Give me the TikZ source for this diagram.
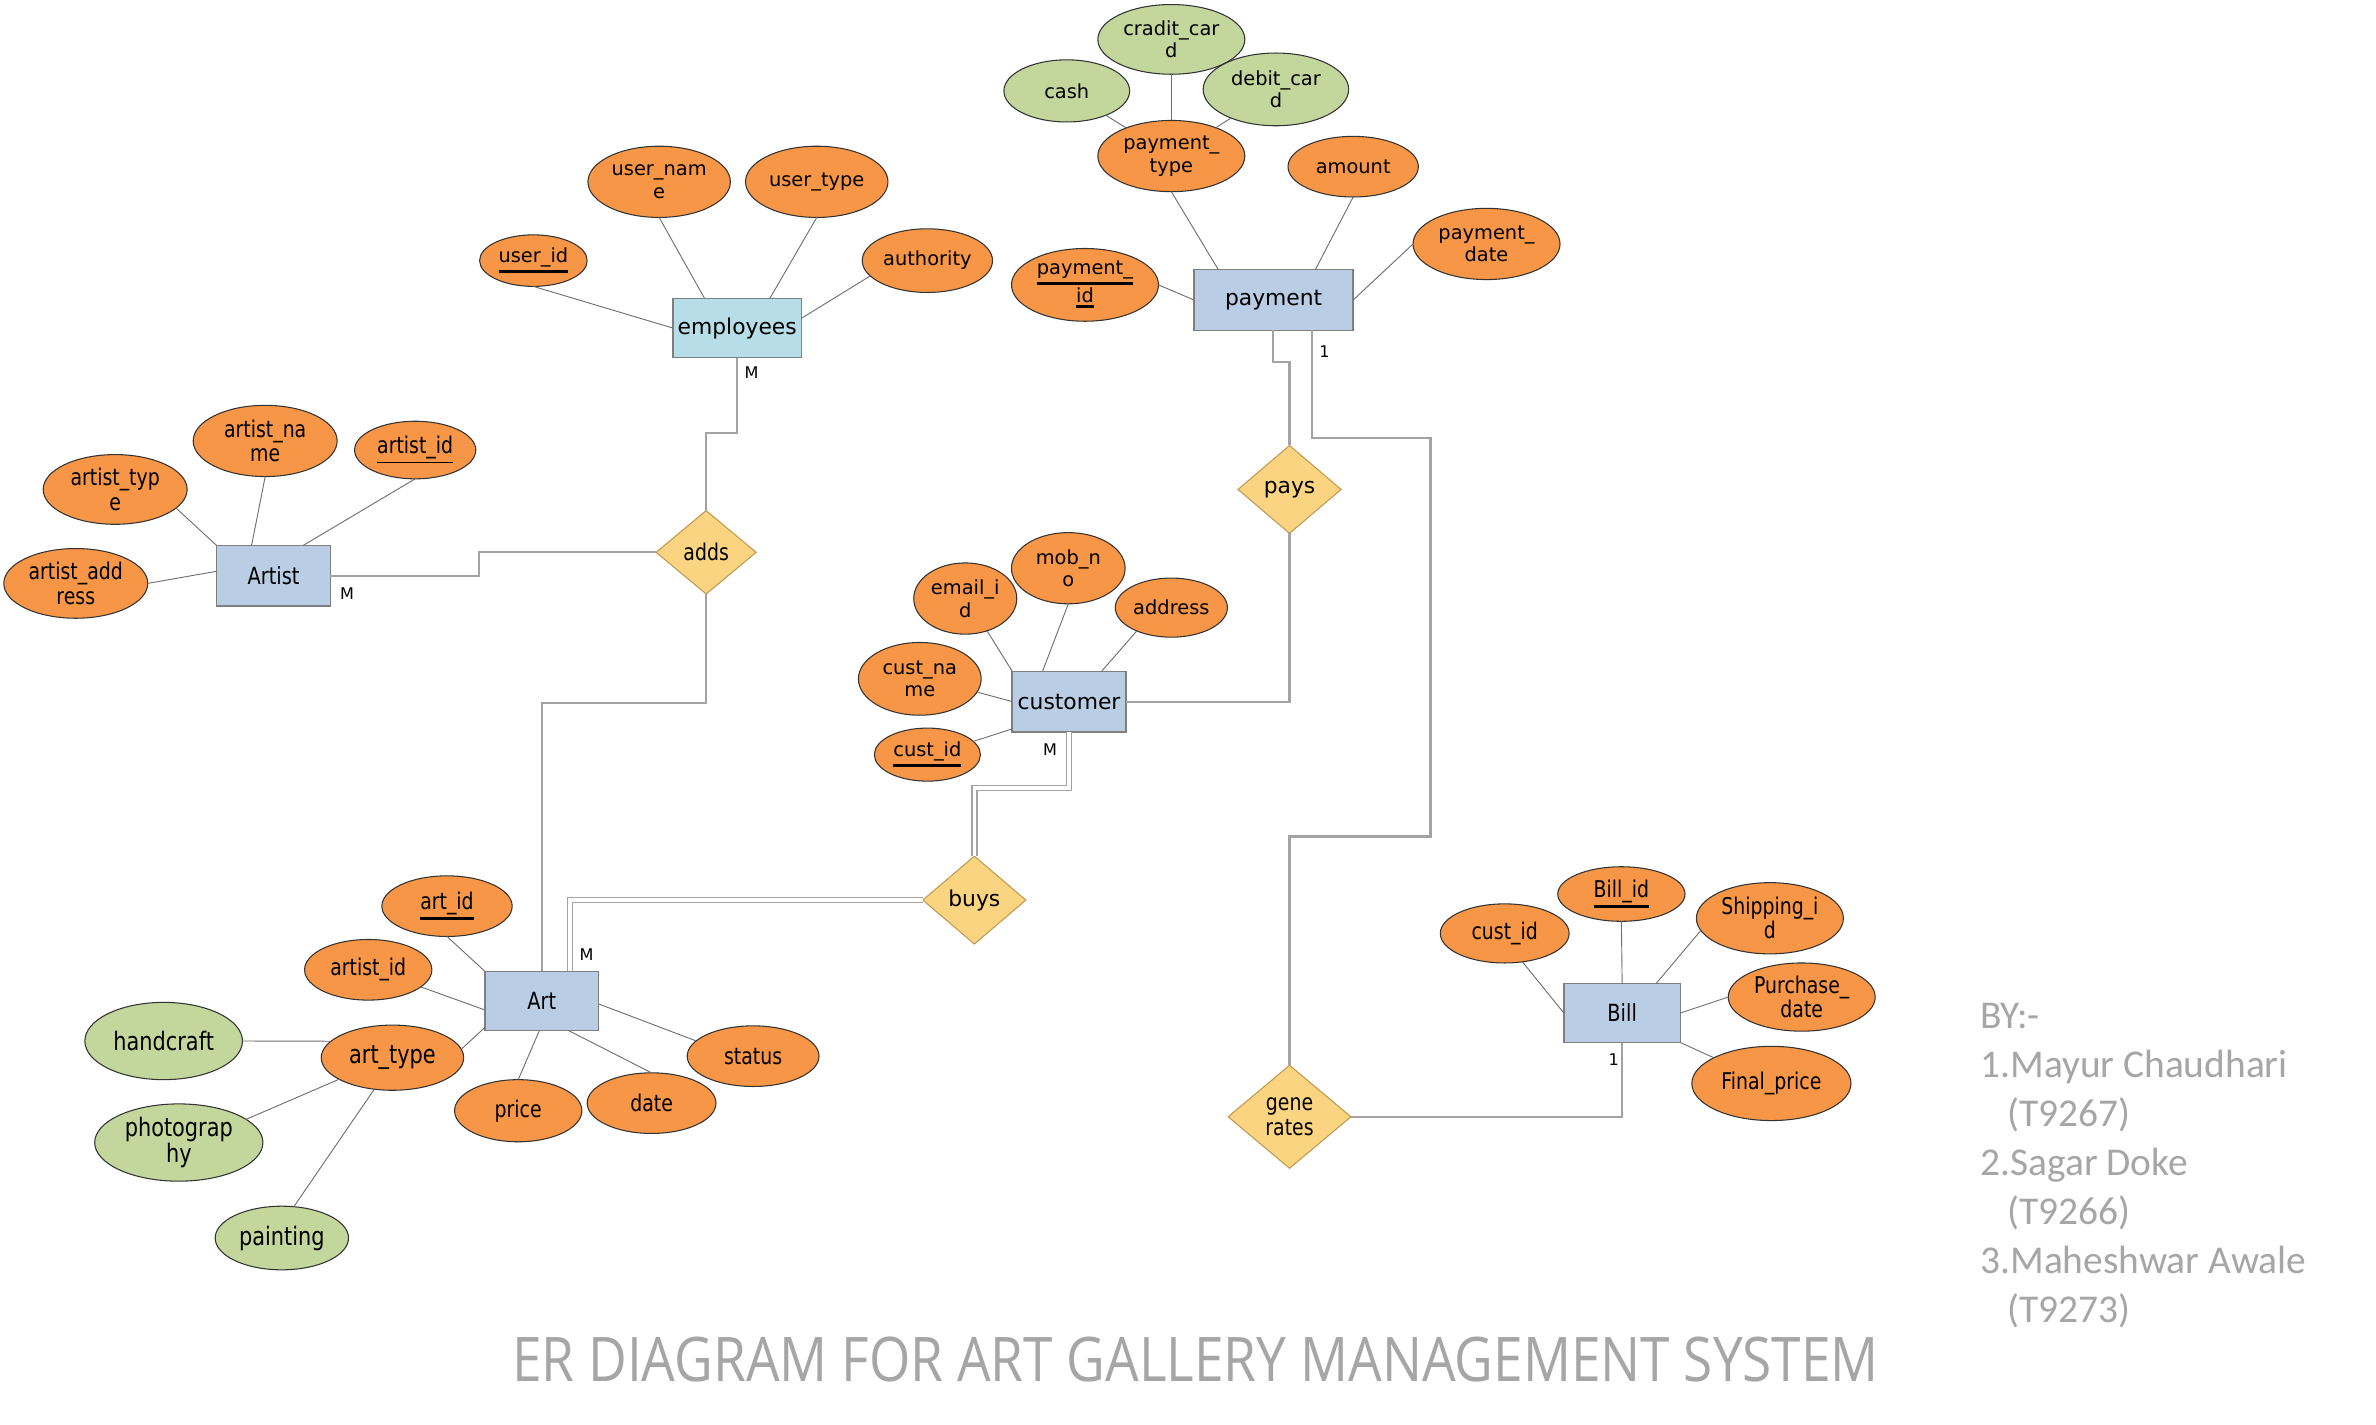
\documentclass[tikz,border=0pt]{standalone}
\usepackage{fontspec}
\usepackage{graphicx}
\setmainfont{DejaVu Sans}
\newfontfamily\narrowfont{DejaVu Sans}[FakeStretch=0.82]
\newfontfamily\carl{Carlito}
\newfontfamily\osans{Open Sans}
\usetikzlibrary{shapes.geometric,calc}
\definecolor{attrorange}{HTML}{F79646}
\definecolor{attrgreen}{HTML}{C3D69B}
\definecolor{entblue}{HTML}{B9CDE5}
\definecolor{empblue}{HTML}{B7DEE8}
\definecolor{relfill}{HTML}{FAD481}
\definecolor{relborder}{HTML}{C09A50}
\definecolor{entborder}{HTML}{7F7F7F}
\definecolor{linegray}{HTML}{A3A3A3}
\definecolor{conngray}{HTML}{6E6E6E}
\definecolor{txtgray}{HTML}{A6A6A6}
\newcommand\tul[1]{\vtop{\hbox{#1}\kern0.7pt\hrule height 1.1pt}}
\begin{document}
\begin{tikzpicture}[x=0.5pt,y=-0.5pt,
  nodebase/.style={inner sep=0pt, outer sep=0pt, align=center},
  esz/.style 2 args={minimum width=#1pt, minimum height=#2pt},
  attr/.style={nodebase, ellipse, draw=black!80, line width=0.35pt, fill=attrorange,
    font=\fontsize{6.4pt}{7.5pt}\selectfont},
  nattr/.style={attr, font=\narrowfont\fontsize{7.6pt}{8pt}\selectfont},
  bigattr/.style={attr, font=\narrowfont\fontsize{8.4pt}{8.6pt}\selectfont},
  gattr/.style={attr, fill=attrgreen},
  ngattr/.style={bigattr, fill=attrgreen},
  ent/.style={nodebase, rectangle, draw=entborder, line width=0.5pt, fill=entblue,
    font=\fontsize{7.2pt}{8pt}\selectfont},
  nent/.style={ent, font=\narrowfont\fontsize{7.8pt}{8.5pt}\selectfont},
  rel/.style={nodebase, diamond, draw=relborder, line width=0.35pt, fill=relfill,
    font=\fontsize{7.2pt}{8pt}\selectfont},
  nrel/.style={rel, font=\narrowfont\fontsize{7.6pt}{8.5pt}\selectfont},
  conn/.style={draw=conngray, line width=0.3pt},
  rline/.style={draw=linegray, line width=0.7pt},
  dline/.style={draw=linegray, line width=0.45pt, double=white, double distance=1.2pt},
  lab/.style={nodebase, font=\fontsize{5.3pt}{6pt}\selectfont},
  credit/.style={nodebase, anchor=base west, text=txtgray, font=\carl\fontsize{13pt}{16pt}\selectfont}
]
\fill[white] (0,0) rectangle (1568,939.8);
\useasboundingbox (0,0) rectangle (1568,939.8);

% ---------- payment cluster
\node[gattr, esz={41.5}{20.5}] (cash) at (704,60) {cash};
\node[gattr, esz={48.5}{23}] (cradit) at (773,26) {cradit\_car\\d};
\node[gattr, esz={48}{24}] (debit) at (842,59) {debit\_car\\d};
\node[attr, esz={48.5}{23.5}] (ptype) at (773,103) {payment\_\\type};
\node[attr, esz={43}{20}] (amount) at (893,110) {amount};
\node[attr, esz={48.5}{23.5}] (pdate) at (981,161) {payment\_\\date};
\node[attr, esz={48.5}{24}] (pid) at (716,188) {\tul{payment\_}\\\tul{id}};
\node[ent, minimum width=52.5pt, minimum height=20pt] (payment) at (840.5,198) {payment};

% ---------- employees cluster
\node[attr, esz={35.5}{17}] (uid) at (352,172) {\tul{user\_id}};
\node[attr, esz={47}{23.5}] (uname) at (435,120) {user\_nam\\e};
\node[attr, esz={47}{23.5}] (utype) at (539,120) {user\_type};
\node[attr, esz={43}{21}] (auth) at (612,172) {authority};
\node[ent, fill=empblue, minimum width=42.5pt, minimum height=19.5pt] (employees) at (486.5,216.5) {employees};

% ---------- artist cluster
\node[nattr, esz={47.5}{23}] (atype) at (76,323) {artist\_typ\\e};
\node[nattr, esz={47.5}{23.5}] (aname) at (175,291) {artist\_na\\me};
\node[nattr, esz={40}{19}] (aid) at (274,297) {\underline{artist\_id}};
\node[nattr, esz={47.5}{23}] (aaddr) at (50,385) {artist\_add\\ress};
\node[nent, minimum width=37.5pt, minimum height=20pt] (artist) at (180.5,380) {Artist};

% ---------- customer cluster
\node[attr, esz={34}{23.5}] (email) at (637,395) {email\_i\\d};
\node[attr, esz={37.5}{23.5}] (mob) at (705,375) {mob\_n\\o};
\node[attr, esz={37}{19.5}] (caddr) at (773,401) {address};
\node[attr, esz={40.5}{24}] (cname) at (607,448) {cust\_na\\me};
\node[attr, esz={35}{17.5}] (cid) at (612,498) {\tul{cust\_id}};
\node[ent, minimum width=37.5pt, minimum height=20pt] (customer) at (705.5,463) {customer};

% ---------- art cluster
\node[nattr, esz={43}{20}] (artid) at (295,598) {\tul{art\_id}};
\node[nattr, esz={42}{20}] (artistid) at (243,640) {artist\_id};
\node[ngattr, esz={52}{25.5}] (handcraft) at (108,687) {handcraft};
\node[bigattr, esz={47}{21.5}] (arttype) at (259,698) {art\_type};
\node[ngattr, esz={55.5}{25.5}] (photo) at (118,754) {photograp\\hy};
\node[ngattr, esz={44}{21}] (painting) at (186,817) {painting};
\node[nattr, esz={42}{20.5}] (price) at (342,733) {price};
\node[nattr, esz={42.5}{20}] (date) at (430,728) {date};
\node[nattr, esz={43.5}{20}] (status) at (497,697) {status};
\node[nent, minimum width=37.5pt, minimum height=19.5pt] (art) at (357.5,660.5) {Art};

% ---------- bill cluster
\node[nattr, esz={42.5}{19.5}] (bcid) at (993,616) {cust\_id};
\node[nattr, esz={42}{18}] (billid) at (1070,590) {\tul{Bill\_id}};
\node[nattr, esz={48.5}{23.5}] (ship) at (1168,606) {Shipping\_i\\d};
\node[nattr, esz={48.5}{22.5}] (purch) at (1189,658) {Purchase\_\\date};
\node[nattr, esz={52.5}{24.5}] (final) at (1169,715) {Final\_price};
\node[nent, minimum width=38.5pt, minimum height=19.5pt] (bill) at (1070.5,668.5) {Bill};

% ---------- relationships
\node[nrel, minimum width=33pt, minimum height=27.5pt] (adds) at (466,364.5) {adds};
\node[rel, minimum width=34pt, minimum height=29pt] (pays) at (851,323) {pays};
\node[rel, minimum width=34pt, minimum height=29pt] (buys) at (643,594) {buys};
\node[nrel, minimum width=40.5pt, minimum height=34pt] (gen) at (851,737) {gene\\rates};

% ---------- attribute connectors
\draw[conn] (cash) -- (ptype);
\draw[conn] (cradit) -- (ptype);
\draw[conn] (debit) -- (ptype);
\draw[conn] (ptype.south) -- ($(payment.north west)+(16,0)$);
\draw[conn] (amount.south) -- ($(payment.north west)+(80,0)$);
\draw[conn] (pdate.west) -- (payment.east);
\draw[conn] (pid.east) -- (payment.west);

\draw[conn] (uid.south) -- (employees.west);
\draw[conn] (uname.south) -- ($(employees.north west)+(21,0)$);
\draw[conn] (utype.south) -- ($(employees.north west)+(64,0)$);
\draw[conn] (auth.195) -- ($(employees.north east)+(0,13)$);

\draw[conn] (atype.-17) -- (artist.north west);
\draw[conn] (aname.south) -- ($(artist.north west)+(23,0)$);
\draw[conn] (aid.south) -- ($(artist.north west)+(57,0)$);
\draw[conn] (aaddr.east) -- ($(artist.west)+(0,-3)$);

\draw[conn] (email.-56) -- (customer.north west);
\draw[conn] (mob.south) -- ($(customer.north west)+(20,0)$);
\draw[conn] (caddr.-146) -- ($(customer.north west)+(59,0)$);
\draw[conn] (cname.-13) -- (customer.west);
\draw[conn] (cid.16) -- ($(customer.south west)+(0,-2)$);

\draw[conn] (artid.south) -- (art.north west);
\draw[conn] (artistid.-18) -- ($(art.west)+(0,6)$);
\draw[conn] (arttype.7) -- ($(art.south west)+(0,-2)$);
\draw[conn] (handcraft.east) -- (arttype.165);
\draw[conn] (photo.19) -- (arttype.-158);
\draw[conn] (painting.69) -- (arttype.-120);
\draw[conn] (price.north) -- ($(art.south west)+(36,0)$);
\draw[conn] (date.north) -- ($(art.south west)+(55,0)$);
\draw[conn] (status.165) -- ($(art.east)+(0,2)$);

\draw[conn] (bcid.-58) -- (bill.west);
\draw[conn] (billid.south) -- (bill.north);
\draw[conn] (ship.190) -- ($(bill.north west)+(61,0)$);
\draw[conn] (purch.west) -- (bill.east);
\draw[conn] (final.156) -- (bill.south east);

% ---------- relationship connectors
\draw[rline] (employees.south) -- ++(0,50) -| (adds.north);
\draw[rline] (artist.east) -- ++(98,0) |- (adds.west);
\draw[rline] (adds.south) -- ++(0,72) -| (art.north);
\draw[dline] ($(art.north west)+(56,0)$) |- (buys.west);
\draw[dline] (customer.south) -- ++(0,37) -| (buys.north);
\draw[rline] (customer.east) -| (pays.south);
\draw[rline] ($(payment.south west)+(52,0)$) -- ++(0,21) -| (pays.north);
\coordinate (c1) at (944,289);
\coordinate (c2) at (944,552);
\draw[rline] ($(payment.south west)+(78,0)$) |- (c1) -- (c2) -| (gen.north);
\draw[rline] (gen.east) -| (bill.south);

% ---------- cardinality labels
\node[lab] (m1) at (496,246) {M};
\node[lab] (m2) at (229,392) {M};
\node[lab] (m3) at (387,630) {M};
\node[lab] (m4) at (693,495) {M};
\node[lab] (o1) at (874,232) {1};
\node[lab] (o2) at (1065,699) {1};

% ---------- texts
\node[nodebase, anchor=base, text=txtgray, font=\osans\fontsize{20.3pt}{24pt}\selectfont] (title) at (789,912)
  {\resizebox{451pt}{\height}{ER DIAGRAM FOR ART GALLERY MANAGEMENT SYSTEM}};
\node[credit] (by) at (1307,679) {BY:-};
\node[credit] (n1) at (1307,711.3) {1.Mayur Chaudhari};
\node[credit] (t1) at (1325,743.6) {(T9267)};
\node[credit] (n2) at (1307,775.9) {2.Sagar Doke};
\node[credit] (t2) at (1325,808.2) {(T9266)};
\node[credit] (n3) at (1307,840.5) {3.Maheshwar Awale};
\node[credit] (t3) at (1325,872.8) {(T9273)};
\end{tikzpicture}
\end{document}
